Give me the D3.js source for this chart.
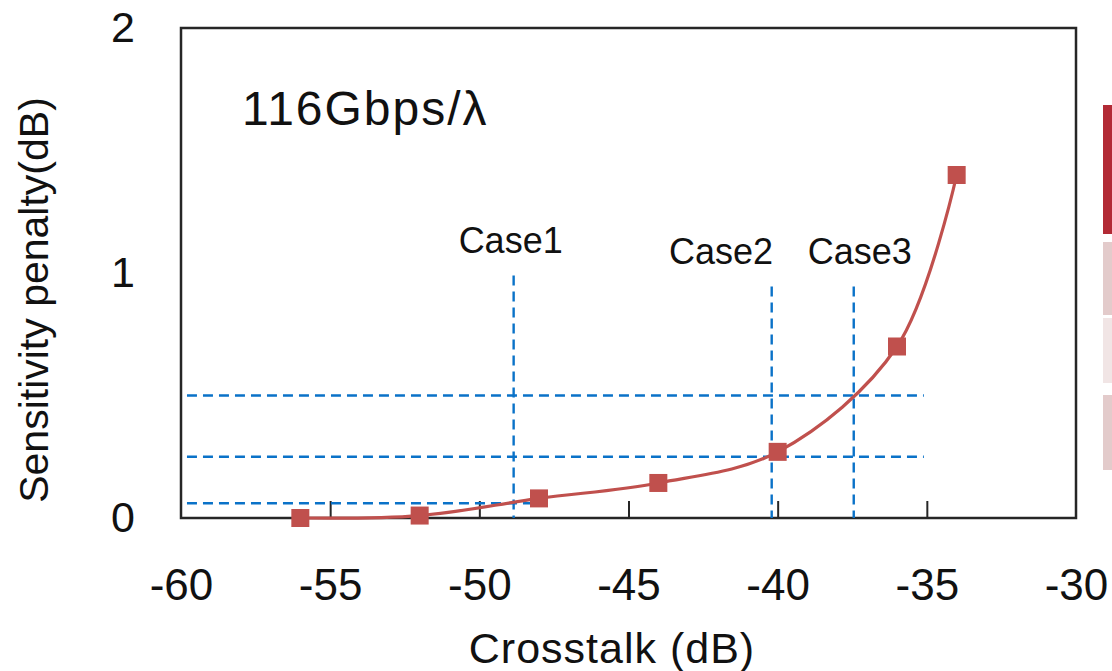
<!DOCTYPE html>
<html>
<head>
<meta charset="utf-8">
<script src="https://cdn.jsdelivr.net/npm/d3@7"></script>
<style>
  body { margin: 0; background: #fff; }
  svg text { font-family: Arial, "Liberation Sans", sans-serif; fill: #111; }
</style>
</head>
<body>
<svg id="chart"></svg>
<script>
// Measured series
const crosstalk = [-56, -52, -48, -44, -40, -36, -34];
const penalty = [0.0, 0.01, 0.08, 0.143, 0.27, 0.70, 1.40];

// Case markers
const caseNames = ["Case1", "Case2", "Case3"];
const caseCrosstalk = [-48.85, -40.2, -37.45];
const casePenalty = [0.06, 0.25, 0.5];
const caseLineTop = [0.99, 0.945, 0.945];
const caseLineEnd = [-48.1, -35.1, -35.1];
const caseLabelX = [-48.95, -41.9, -37.25];
const caseLabelY = [1.08, 1.035, 1.035];

const xTicks = [-60, -55, -50, -45, -40, -35, -30];
const yTicks = [0, 1, 2];

const width = 1112;
const height = 671;
const plotLeft = 181, plotRight = 1076, plotTop = 28, plotBottom = 518;

const red = "#c0504d";
const blue = "#0a72c8";

const svg = d3.select("#chart")
  .attr("width", width)
  .attr("height", height);

const x = d3.scaleLinear().domain([-60, -30]).range([plotLeft, plotRight]);
const y = d3.scaleLinear().domain([0, 2]).range([plotBottom, plotTop]);

// Frame
svg.append("rect")
  .attr("x", plotLeft)
  .attr("y", plotTop)
  .attr("width", plotRight - plotLeft)
  .attr("height", plotBottom - plotTop)
  .attr("fill", "none")
  .attr("stroke", "#262626")
  .attr("stroke-width", 2.5);

// X axis (inward ticks), plain hyphen for the minus sign
const xAxis = svg.append("g")
  .attr("transform", `translate(0, ${plotBottom})`)
  .call(d3.axisBottom(x).tickValues(xTicks).tickSizeInner(-17).tickSizeOuter(0)
    .tickPadding(51).tickFormat(d => String(d)));
xAxis.select(".domain").remove();
xAxis.selectAll("line")
  .attr("stroke", "#262626")
  .attr("stroke-width", 2)
  .filter(d => d === -60 || d === -30).remove();
xAxis.selectAll("text")
  .attr("font-size", 44)
  .attr("font-family", "Arial, 'Liberation Sans', sans-serif")
  .attr("fill", "#111");

// Y axis
const yAxis = svg.append("g")
  .attr("transform", `translate(${plotLeft}, 0)`)
  .call(d3.axisLeft(y).tickValues(yTicks).tickSize(0).tickPadding(46).tickFormat(d => String(d)));
yAxis.select(".domain").remove();
yAxis.selectAll("text")
  .attr("font-size", 43)
  .attr("font-family", "Arial, 'Liberation Sans', sans-serif")
  .attr("fill", "#111");

// Axis titles
svg.append("text")
  .attr("x", 612)
  .attr("y", 663)
  .attr("text-anchor", "middle")
  .attr("font-size", 43)
  .attr("letter-spacing", 1)
  .text("Crosstalk (dB)");

svg.append("text")
  .attr("transform", `translate(48, ${(plotTop + plotBottom) / 2 + 27}) rotate(-90)`)
  .attr("text-anchor", "middle")
  .attr("font-size", 41)
  .text("Sensitivity penalty(dB)");

// Rate label
svg.append("text")
  .attr("x", 242)
  .attr("y", 125)
  .attr("font-size", 48)
  .attr("letter-spacing", 2)
  .text("116Gbps/λ");

// Dashed guide lines
const guides = svg.append("g")
  .attr("stroke", blue)
  .attr("stroke-width", 2.4)
  .attr("stroke-dasharray", "10,6")
  .attr("fill", "none");

guides.selectAll(".hguide")
  .data(caseNames)
  .enter()
  .append("line")
  .attr("class", "hguide")
  .attr("x1", x(-59.8))
  .attr("x2", (d, i) => x(caseLineEnd[i]))
  .attr("y1", (d, i) => y(casePenalty[i]))
  .attr("y2", (d, i) => y(casePenalty[i]));

guides.selectAll(".vguide")
  .data(caseNames)
  .enter()
  .append("line")
  .attr("class", "vguide")
  .attr("x1", (d, i) => x(caseCrosstalk[i]))
  .attr("x2", (d, i) => x(caseCrosstalk[i]))
  .attr("y1", (d, i) => y(caseLineTop[i]))
  .attr("y2", y(0));

svg.selectAll(".caselabel")
  .data(caseNames)
  .enter()
  .append("text")
  .attr("class", "caselabel")
  .attr("x", (d, i) => x(caseLabelX[i]))
  .attr("y", (d, i) => y(caseLabelY[i]))
  .attr("text-anchor", "middle")
  .attr("font-size", 36)
  .text(d => d);

// Series
const points = crosstalk.map((c, i) => ({ x: c, y: penalty[i] }));

const line = d3.line()
  .x(d => x(d.x))
  .y(d => y(d.y))
  .curve(d3.curveCatmullRom.alpha(0.5));

svg.append("path")
  .datum(points)
  .attr("d", line)
  .attr("fill", "none")
  .attr("stroke", red)
  .attr("stroke-width", 3.2);

const sq = 18;
svg.selectAll(".pt")
  .data(points)
  .enter()
  .append("rect")
  .attr("class", "pt")
  .attr("x", d => x(d.x) - sq / 2)
  .attr("y", d => y(d.y) - sq / 2)
  .attr("width", sq)
  .attr("height", sq)
  .attr("fill", red);

// Cropped panel edge on the right
const edgeBars = [
  { y0: 105, y1: 234, c: "#b22a35" },
  { y0: 242, y1: 315, c: "#e3cbcb" },
  { y0: 318, y1: 383, c: "#f1e5e5" },
  { y0: 395, y1: 470, c: "#e3cbcb" }
];
svg.selectAll(".edge")
  .data(edgeBars)
  .enter()
  .append("rect")
  .attr("class", "edge")
  .attr("x", 1103)
  .attr("y", d => d.y0)
  .attr("width", 9)
  .attr("height", d => d.y1 - d.y0)
  .attr("fill", d => d.c);
</script>
</body>
</html>
